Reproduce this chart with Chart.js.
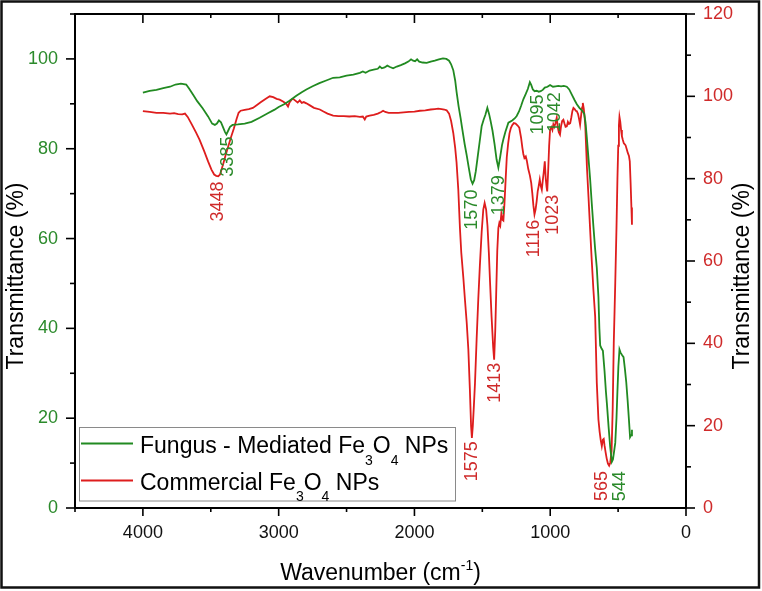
<!DOCTYPE html>
<html>
<head>
<meta charset="utf-8">
<script src="https://cdn.jsdelivr.net/npm/chart.js@4.4.1/dist/chart.umd.min.js"></script>
<style>
  html, body { margin: 0; padding: 0; background: #fff; overflow: hidden; }
  canvas { display: block; }
</style>
</head>
<body>
<canvas id="ftir" width="762" height="591"></canvas>
<script>
// FTIR spectra, wavenumber (cm-1) vs transmittance (%)
const fungusWavenumber = [4000, 3950, 3900, 3850, 3800, 3760, 3720, 3681, 3660, 3630, 3600, 3560, 3520, 3490, 3470, 3455, 3440, 3425, 3410, 3395, 3385, 3372, 3358, 3340, 3300, 3250, 3200, 3140, 3080, 3030, 3000, 2960, 2920, 2870, 2830, 2796, 2750, 2700, 2650, 2599, 2550, 2500, 2450, 2402, 2380, 2360, 2330, 2300, 2270, 2255, 2240, 2220, 2200, 2180, 2157, 2130, 2100, 2070, 2045, 2025, 2010, 1995, 1980, 1965, 1940, 1910, 1880, 1850, 1820, 1790, 1765, 1745, 1730, 1714, 1700, 1690, 1675, 1660, 1650, 1630, 1615, 1600, 1585, 1572, 1560, 1548, 1535, 1520, 1505, 1490, 1478, 1463, 1450, 1440, 1425, 1410, 1395, 1382, 1370, 1355, 1345, 1330, 1308, 1280, 1260, 1247, 1230, 1215, 1198, 1180, 1165, 1150, 1140, 1128, 1115, 1100, 1085, 1070, 1055, 1040, 1020, 1001, 980, 960, 940, 920, 900, 878, 860, 840, 820, 804, 785, 765, 750, 740, 730, 718, 706, 694, 682, 669, 657, 645, 638, 632, 622, 612, 600, 590, 583, 570, 558, 546, 538, 530, 521, 512, 505, 498, 490, 482, 470, 460, 450, 440, 430, 420, 412, 405, 398];
const fungusTransmittance = [92.5, 92.9, 93.1, 93.5, 93.8, 94.3, 94.5, 94.3, 93.4, 92.0, 90.6, 89.0, 87.2, 85.6, 85.3, 85.6, 86.3, 85.9, 84.8, 83.7, 83.2, 84.0, 84.9, 85.3, 85.4, 85.6, 86.0, 86.9, 87.9, 88.7, 89.3, 89.9, 90.7, 91.8, 92.6, 93.2, 93.9, 94.6, 95.2, 95.8, 95.9, 96.3, 96.5, 96.9, 97.2, 96.9, 97.4, 97.6, 97.8, 98.3, 97.9, 98.1, 98.5, 98.2, 97.9, 98.3, 98.6, 99.0, 99.4, 99.9, 99.6, 99.5, 99.9, 99.4, 99.2, 99.1, 99.4, 99.6, 99.9, 100.1, 100.0, 99.6, 98.8, 97.5, 95.2, 92.7, 89.5, 86.8, 84.8, 81.0, 78.5, 75.8, 73.2, 72.2, 73.0, 75.0, 78.0, 81.5, 85.0, 86.5, 87.5, 89.1, 87.7, 86.3, 84.0, 81.0, 77.6, 75.8, 77.9, 80.8, 82.1, 83.8, 85.8, 86.3, 86.8, 87.3, 88.3, 89.5, 91.0, 92.2, 93.3, 94.8, 94.2, 93.2, 92.8, 92.9, 92.7, 92.8, 93.1, 93.6, 93.8, 94.2, 93.8, 93.9, 94.0, 93.9, 94.0, 93.8, 93.2, 92.0, 90.8, 89.9, 89.1, 88.5, 87.8, 85.8, 82.3, 77.8, 73.2, 67.8, 62.7, 57.6, 53.5, 47.0, 40.0, 36.2, 35.5, 35.0, 30.5, 26.0, 23.4, 18.0, 13.5, 10.3, 10.8, 12.5, 14.5, 20.0, 26.0, 31.5, 35.3, 34.6, 34.0, 33.6, 31.0, 28.0, 24.0, 19.5, 15.8, 16.2, 17.4];

const commercialWavenumber = [4000, 3950, 3900, 3850, 3800, 3770, 3740, 3710, 3690, 3670, 3640, 3610, 3583, 3550, 3520, 3495, 3475, 3460, 3445, 3432, 3420, 3405, 3390, 3370, 3350, 3330, 3310, 3295, 3280, 3250, 3220, 3190, 3160, 3130, 3100, 3066, 3040, 3015, 2993, 2965, 2945, 2931, 2920, 2905, 2894, 2875, 2860, 2845, 2830, 2815, 2796, 2770, 2740, 2697, 2670, 2640, 2599, 2560, 2520, 2480, 2440, 2402, 2380, 2366, 2355, 2330, 2300, 2270, 2245, 2231, 2215, 2190, 2157, 2120, 2080, 2040, 2000, 1960, 1920, 1880, 1850, 1825, 1800, 1780, 1763, 1745, 1730, 1714, 1700, 1690, 1677, 1665, 1655, 1640, 1628, 1615, 1603, 1592, 1583, 1577, 1570, 1562, 1554, 1542, 1530, 1518, 1505, 1493, 1483, 1472, 1462, 1452, 1443, 1432, 1420, 1413, 1405, 1398, 1390, 1382, 1375, 1368, 1360, 1352, 1345, 1337, 1328, 1320, 1310, 1300, 1290, 1280, 1268, 1255, 1240, 1228, 1215, 1205, 1198, 1190, 1180, 1172, 1162, 1150, 1140, 1132, 1124, 1116, 1108, 1100, 1092, 1085, 1077, 1070, 1062, 1055, 1048, 1040, 1033, 1027, 1022, 1015, 1008, 1001, 992, 984, 977, 970, 962, 952, 945, 937, 928, 920, 912, 903, 895, 887, 878, 870, 862, 853, 845, 837, 829, 820, 812, 804, 795, 788, 780, 772, 765, 760, 753, 747, 742, 736, 730, 718, 706, 694, 682, 669, 657, 645, 636, 628, 620, 612, 606, 600, 592, 584, 575, 566, 558, 548, 540, 532, 526, 521, 512, 505, 499, 494, 490, 484, 478, 472, 465, 458, 452, 445, 437, 428, 420, 414, 408, 402, 398];
const commercialTransmittance = [96.4, 96.2, 96.0, 96.0, 95.8, 95.9, 95.7, 95.6, 95.8, 95.0, 93.2, 91.3, 89.5, 86.8, 84.2, 82.2, 81.0, 80.7, 80.6, 81.0, 82.3, 84.0, 85.8, 88.0, 90.2, 92.2, 94.5, 96.0, 96.5, 96.7, 96.9, 97.2, 97.9, 98.6, 99.3, 100.0, 99.8, 99.4, 99.2, 98.7, 98.2, 97.5, 98.5, 99.2, 99.4, 98.9, 98.5, 99.0, 98.4, 98.6, 98.3, 97.8, 97.2, 96.8, 96.3, 95.8, 95.3, 95.2, 95.2, 95.1, 95.2, 95.0, 95.1, 94.4, 95.1, 95.3, 95.5, 95.8, 96.2, 96.5, 96.2, 96.0, 96.0, 96.0, 96.1, 96.2, 96.3, 96.5, 96.6, 96.8, 96.9, 97.0, 96.9, 96.8, 96.6, 95.8, 94.0, 91.1, 87.5, 84.0, 77.3, 68.0, 62.0, 56.0, 50.6, 45.0, 38.5, 29.0, 20.0, 17.0, 20.0, 25.0, 30.4, 41.0, 50.6, 59.0, 67.0, 72.5, 74.1, 72.5, 68.5, 62.0, 54.7, 46.5, 39.0, 36.0, 43.0, 52.0, 62.5, 68.0, 69.2, 68.6, 71.5, 70.0, 69.8, 74.0, 80.0, 85.2, 88.5, 91.0, 92.3, 93.0, 93.5, 93.4, 92.9, 92.4, 90.0, 87.5, 86.0, 85.0, 85.4, 84.3, 82.4, 80.8, 79.0, 76.5, 73.5, 71.3, 72.5, 74.5, 77.0, 78.2, 79.8, 78.3, 77.3, 79.5, 81.5, 84.2, 80.0, 78.0, 76.9, 82.0, 88.0, 91.9, 92.5, 91.8, 93.2, 92.6, 93.4, 94.8, 92.6, 91.3, 90.7, 92.8, 94.0, 94.3, 93.4, 92.6, 92.7, 93.8, 93.3, 93.5, 94.8, 96.4, 97.2, 96.9, 96.5, 96.4, 95.7, 94.6, 93.1, 95.5, 97.3, 98.4, 97.0, 95.0, 93.0, 88.0, 83.0, 75.5, 67.6, 60.0, 53.0, 46.5, 30.4, 21.5, 18.5, 16.5, 15.0, 16.6, 16.8, 15.2, 13.5, 12.0, 10.8, 10.3, 11.0, 13.8, 24.0, 40.0, 48.0, 54.7, 68.0, 80.0, 88.0, 93.0, 95.0, 93.8, 91.8, 90.3, 89.4, 88.6, 88.4, 88.1, 87.2, 86.2, 85.5, 84.2, 79.0, 73.0, 68.8];

// axis ticks
const xTicks = [4000, 3000, 2000, 1000, 0];
const yLeftTicks = [0, 20, 40, 60, 80, 100];
const yRightTicks = [0, 20, 40, 60, 80, 100, 120];

// peak labels: text, wavenumber where the label sits, level where the label starts, series
const peakText = ['3385', '1570', '1379', '1095', '1042', '544', '3448', '1575', '1413', '1116', '1023', '565'];
const peakWavenumber = [3376, 1574, 1377, 1087, 964, 485, 3450, 1574, 1407, 1117, 977, 620];
const peakLevel = [82.7, 70.9, 74.1, 92.1, 92.6, 8.2, 79.3, 16.2, 35.3, 70.0, 76.1, 9.0];
const peakSeries = ['fungus', 'fungus', 'fungus', 'fungus', 'fungus', 'fungus', 'commercial', 'commercial', 'commercial', 'commercial', 'commercial', 'commercial'];

const GREEN = '#218a21';
const RED = '#de1d1d';
const GREEN_TEXT = '#2b8a2b';
const RED_TEXT = '#cf2a2a';
const FONT = 'Liberation Sans, Arial, sans-serif';

function pts(xs, ys) {
  return xs.map((x, i) => ({ x: x, y: ys[i] }));
}

// draws a run of text pieces, some sub/superscript; returns width
function drawRich(c, parts, x, y, size, measureOnly) {
  let w = 0;
  parts.forEach(p => {
    const s = p.sub || p.sup ? Math.round(size * 0.62) : size;
    c.font = s + 'px ' + FONT;
    const dy = p.sub ? size * 0.5 : (p.sup ? -size * 0.42 : 0);
    if (!measureOnly) c.fillText(p.t, x + w, y + dy);
    w += c.measureText(p.t).width;
  });
  return w;
}

// keep the plot box where it is in the picture
function noPad(s) {
  s.paddingTop = 0;
  s.paddingBottom = 0;
  s.paddingLeft = 0;
  s.paddingRight = 0;
}

const decor = {
  id: 'decor',
  beforeDraw(chart) {
    const c = chart.ctx;
    c.save();
    c.fillStyle = '#fff';
    c.fillRect(0, 0, chart.width, chart.height);
    c.restore();
  },
  afterDatasetsDraw(chart) {
    const c = chart.ctx;
    const a = chart.chartArea;
    const { x, yL, yR } = chart.scales;
    c.save();

    // axes box
    c.strokeStyle = '#000';
    c.lineWidth = 2;
    c.beginPath();
    c.moveTo(a.left, a.top);
    c.lineTo(a.right, a.top);
    c.lineTo(a.right, a.bottom);
    c.lineTo(a.left, a.bottom);
    c.closePath();
    c.stroke();

    const line = (x1, y1, x2, y2) => {
      c.beginPath(); c.moveTo(x1, y1); c.lineTo(x2, y2); c.stroke();
    };
    c.lineWidth = 1.6;
    // x ticks, bottom outward and top inward
    for (let v = 0; v <= 4500; v += 500) {
      const px = x.getPixelForValue(v);
      const major = xTicks.includes(v);
      line(px, a.bottom, px, a.bottom + (major ? 8 : 4));
      line(px, a.top, px, a.top + (major ? 9 : 4));
    }
    // left ticks
    for (let v = 0; v <= 110; v += 10) {
      const py = yL.getPixelForValue(v);
      line(a.left - (yLeftTicks.includes(v) ? 9 : 5), py, a.left, py);
    }
    // right ticks
    for (let v = 0; v <= 120; v += 10) {
      const py = yR.getPixelForValue(v);
      line(a.right, py, a.right + (yRightTicks.includes(v) ? 9 : 5), py);
    }

    // peak labels
    c.font = '18px ' + FONT;
    c.textAlign = 'right';
    c.textBaseline = 'middle';
    peakText.forEach((t, i) => {
      const isF = peakSeries[i] === 'fungus';
      const px = x.getPixelForValue(peakWavenumber[i]);
      const py = (isF ? yL : yR).getPixelForValue(peakLevel[i]);
      c.save();
      c.translate(px, py);
      c.rotate(-Math.PI / 2);
      c.fillStyle = isF ? GREEN_TEXT : RED_TEXT;
      c.fillText(t, 0, 0);
      c.restore();
    });

    // legend
    c.fillStyle = '#fff';
    c.fillRect(79, 427.5, 376, 73.5);
    c.strokeStyle = '#8a8a8a';
    c.lineWidth = 1;
    c.strokeRect(79.5, 427.5, 376, 73.5);
    c.lineWidth = 2;
    c.strokeStyle = GREEN;
    line(81, 443.5, 133, 443.5);
    c.strokeStyle = RED;
    line(81, 480.5, 133, 480.5);
    c.fillStyle = '#000';
    c.textAlign = 'left';
    c.textBaseline = 'alphabetic';
    drawRich(c, [{ t: 'Fungus - Mediated Fe' }, { t: '3', sub: true }, { t: 'O' }, { t: '4', sub: true }, { t: ' NPs' }], 140, 453, 23);
    drawRich(c, [{ t: 'Commercial Fe' }, { t: '3', sub: true }, { t: 'O' }, { t: '4', sub: true }, { t: ' NPs' }], 140, 489.5, 23);

    // axis titles
    const xt = [{ t: 'Wavenumber (cm' }, { t: '-1', sup: true }, { t: ')' }];
    const w = drawRich(c, xt, 0, 0, 23, true);
    drawRich(c, xt, (a.left + a.right) / 2 - w / 2, 580, 23);

    c.font = '23px ' + FONT;
    c.textAlign = 'center';
    [[23, 276], [749, 276]].forEach(p => {
      c.save();
      c.translate(p[0], p[1]);
      c.rotate(-Math.PI / 2);
      c.fillText('Transmittance (%)', 0, 0);
      c.restore();
    });

    // outer frame
    c.strokeStyle = '#111';
    c.lineWidth = 2.5;
    c.strokeRect(1.5, 1.5, 757.5, 586);
    c.restore();
  }
};

const tickFont = { family: FONT, size: 18 };
const plain = v => String(v);

new Chart(document.getElementById('ftir'), {
  type: 'line',
  data: {
    datasets: [
      {
        label: 'Fungus - Mediated Fe\u2083O\u2084 NPs',
        data: pts(fungusWavenumber, fungusTransmittance),
        yAxisID: 'yL',
        borderColor: GREEN,
        borderWidth: 1.8,
        pointRadius: 0,
        tension: 0,
        fill: false,
      },
      {
        label: 'Commercial Fe\u2083O\u2084 NPs',
        data: pts(commercialWavenumber, commercialTransmittance),
        yAxisID: 'yR',
        borderColor: RED,
        borderWidth: 1.8,
        pointRadius: 0,
        tension: 0,
        fill: false,
      },
    ],
  },
  options: {
    responsive: false,
    animation: false,
    layout: { padding: { top: 14, left: 0, right: 0, bottom: 0 } },
    plugins: {
      legend: { display: false },
      tooltip: { enabled: false },
    },
    scales: {
      x: {
        type: 'linear',
        reverse: true,
        min: 0,
        max: 4500,
        afterBuildTicks: s => { s.ticks = xTicks.map(v => ({ value: v })); },
        afterFit: s => { s.height = 83; noPad(s); },
        grid: { display: false, drawTicks: false },
        border: { display: false },
        ticks: { font: tickFont, color: '#111', padding: 14, maxRotation: 0, autoSkip: false, callback: plain },
      },
      yL: {
        position: 'left',
        min: 0,
        max: 110,
        afterBuildTicks: s => { s.ticks = yLeftTicks.map(v => ({ value: v })); },
        afterFit: s => { s.width = 75; noPad(s); },
        grid: { display: false, drawTicks: false },
        border: { display: false },
        ticks: { font: tickFont, color: GREEN_TEXT, padding: 17, callback: plain },
      },
      yR: {
        position: 'right',
        min: 0,
        max: 120,
        afterBuildTicks: s => { s.ticks = yRightTicks.map(v => ({ value: v })); },
        afterFit: s => { s.width = 76; noPad(s); },
        grid: { display: false, drawTicks: false },
        border: { display: false },
        ticks: { font: tickFont, color: RED_TEXT, padding: 17, callback: plain },
      },
    },
  },
  plugins: [decor],
});
</script>
</body>
</html>
